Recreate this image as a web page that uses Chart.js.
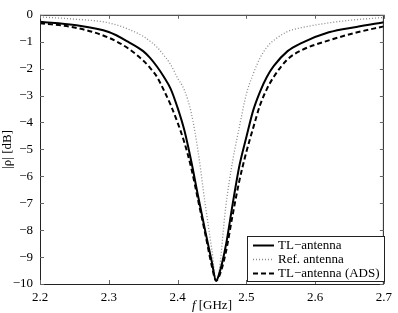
<!DOCTYPE html>
<html>
<head>
<meta charset="utf-8">
<script src="https://cdn.jsdelivr.net/npm/chart.js@4"></script>
<style>
  html, body { margin: 0; padding: 0; background: #fff; }
  #wrap { width: 398px; height: 313px; }
</style>
</head>
<body>
<div id="wrap"><canvas id="chart" width="398" height="313"></canvas></div>
<script>
// frequency grid [GHz] and the three |rho| curves [dB]
const freqs = [2.20, 2.25, 2.30, 2.33, 2.35, 2.36, 2.37, 2.38, 2.39, 2.40, 2.41, 2.42, 2.43, 2.44, 2.45, 2.456, 2.46, 2.47, 2.48, 2.49, 2.50, 2.51, 2.52, 2.53, 2.54, 2.56, 2.58, 2.62, 2.66, 2.70];
const tlAntenna = [-0.26, -0.38, -0.64, -1.03, -1.35, -1.6, -1.92, -2.3, -2.75, -3.45, -4.3, -5.45, -6.75, -8.0, -9.2, -9.88, -9.67, -8.6, -7.05, -5.6, -4.55, -3.55, -2.85, -2.3, -1.9, -1.35, -1.05, -0.65, -0.45, -0.28];
const refAntenna = [-0.08, -0.16, -0.3, -0.55, -0.8, -0.98, -1.2, -1.5, -1.85, -2.35, -2.8, -3.65, -5.1, -7.0, -8.75, -9.85, -9.6, -7.15, -5.45, -4.15, -2.95, -2.2, -1.6, -1.2, -0.95, -0.62, -0.48, -0.3, -0.18, -0.1];
const tlAntennaAds = [-0.31, -0.47, -0.85, -1.28, -1.7, -1.97, -2.3, -2.8, -3.35, -4.0, -4.75, -5.7, -6.9, -8.1, -9.35, -9.88, -9.75, -8.85, -7.45, -6.15, -5.1, -4.2, -3.35, -2.75, -2.3, -1.65, -1.32, -0.95, -0.66, -0.43];
const seriesLabels = ["TL\u2212antenna", "Ref. antenna", "TL\u2212antenna (ADS)"];
const xTicks = [2.2, 2.3, 2.4, 2.5, 2.6, 2.7];

const FONT = "'Liberation Serif', 'Times New Roman', serif";

const toPoints = (vals) => vals.map((v, i) => ({ x: freqs[i], y: v }));

// inward ticks, box, axis titles and the legend box
const frame = {
    id: 'frame',
    afterDraw(chart) {
        const ctx = chart.ctx;
        const a = chart.chartArea;
        const xs = chart.scales.x, ys = chart.scales.y;
        ctx.save();
        ctx.strokeStyle = '#222';
        ctx.lineWidth = 1;
        ctx.strokeRect(a.left + 0.5, a.top + 0.5, a.right - a.left - 1, a.bottom - a.top);

        ctx.strokeStyle = '#666';
        ctx.beginPath();
        xTicks.forEach(t => {
            const px = Math.round(xs.getPixelForValue(t)) + 0.5;
            ctx.moveTo(px, a.bottom); ctx.lineTo(px, a.bottom - 4);
            ctx.moveTo(px, a.top); ctx.lineTo(px, a.top + 4);
        });
        for (let v = -10; v <= 0; v++) {
            const py = Math.round(ys.getPixelForValue(v)) + 0.5;
            ctx.moveTo(a.left, py); ctx.lineTo(a.left + 4, py);
            ctx.moveTo(a.right, py); ctx.lineTo(a.right - 4, py);
        }
        ctx.stroke();

        // x title: italic f + [GHz]
        ctx.fillStyle = '#000';
        ctx.textBaseline = 'alphabetic';
        const cx = (a.left + a.right) / 2;
        ctx.font = 'italic 13px ' + FONT;
        const fW = ctx.measureText('f').width;
        ctx.font = '13px ' + FONT;
        const rest = ' [GHz]';
        const rW = ctx.measureText(rest).width;
        const x0 = cx - (fW + rW) / 2;
        ctx.font = 'italic 13px ' + FONT;
        ctx.fillText('f', x0, 309);
        ctx.font = '13px ' + FONT;
        ctx.fillText(rest, x0 + fW, 309);

        // y title
        ctx.save();
        ctx.translate(11, (a.top + a.bottom) / 2);
        ctx.rotate(-Math.PI / 2);
        ctx.textAlign = 'center';
        ctx.fillText('|\u03c1| [dB]', 0, 0);
        ctx.restore();

        // legend
        const lx = 247, ly = 236, lw = 137, lh = 45;
        ctx.fillStyle = '#fff';
        ctx.fillRect(lx, ly, lw, lh);
        ctx.strokeStyle = '#222';
        ctx.strokeRect(lx + 0.5, ly + 0.5, lw, lh);
        chart.data.datasets.forEach((ds, i) => {
            const yy = ly + 9 + i * 14;
            ctx.save();
            ctx.strokeStyle = ds.borderColor;
            ctx.lineWidth = ds.borderWidth;
            ctx.setLineDash(ds.borderDash || []);
            ctx.beginPath();
            ctx.moveTo(lx + 6, yy + 0.5); ctx.lineTo(lx + 27, yy + 0.5);
            ctx.stroke();
            ctx.restore();
            ctx.fillStyle = '#000';
            ctx.font = '13px ' + FONT;
            ctx.textBaseline = 'middle';
            ctx.fillText(ds.label, lx + 31, yy + 1);
        });
        ctx.restore();
    }
};

new Chart(document.getElementById('chart'), {
    type: 'line',
    data: {
        datasets: [
            { label: seriesLabels[0], data: toPoints(tlAntenna), borderColor: '#000', borderWidth: 2, borderDash: [] },
            { label: seriesLabels[1], data: toPoints(refAntenna), borderColor: '#8a8a8a', borderWidth: 1.3, borderDash: [1, 2] },
            { label: seriesLabels[2], data: toPoints(tlAntennaAds), borderColor: '#000', borderWidth: 2, borderDash: [5, 3] }
        ]
    },
    plugins: [frame],
    options: {
        responsive: false,
        animation: false,
        events: [],
        layout: { padding: { top: 10, right: 11, left: 0, bottom: 0 } },
        elements: {
            point: { radius: 0 },
            line: { cubicInterpolationMode: 'monotone', fill: false }
        },
        plugins: { legend: { display: false }, tooltip: { enabled: false } },
        scales: {
            x: {
                type: 'linear',
                min: 2.2, max: 2.7,
                afterFit: (s) => { s.height = 29; },
                afterBuildTicks: (s) => { s.ticks = xTicks.map(v => ({ value: v })); },
                grid: { display: false, drawTicks: false },
                border: { display: false },
                ticks: { color: '#000', padding: 6, maxRotation: 0, font: { family: FONT, size: 13 },
                    callback: (v) => v.toFixed(1) }
            },
            y: {
                min: -10, max: 0,
                afterFit: (s) => { s.width = 40; },
                grid: { display: false, drawTicks: false },
                border: { display: false },
                ticks: { color: '#000', padding: 7, stepSize: 1, font: { family: FONT, size: 13 },
                    callback: (v) => String(v).replace('-', '\u2212') }
            }
        }
    }
});
</script>
</body>
</html>
